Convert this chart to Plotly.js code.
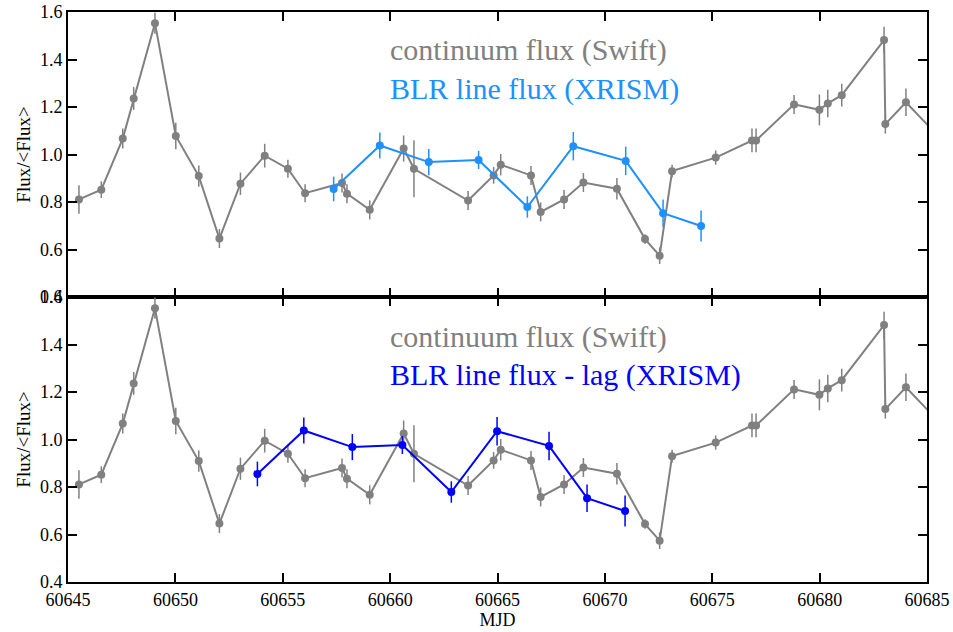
<!DOCTYPE html>
<html>
<head>
<meta charset="utf-8">
<script src="https://cdn.plot.ly/plotly-3.0.1.min.js"></script>
<style>html,body{margin:0;padding:0;background:#fff;}#chart{width:953px;height:632px;}</style>
</head>
<body>
<div id="chart"></div>
<script>
// Continuum (Swift) light curve
const contTime = [60645.51, 60646.55, 60647.55, 60648.06, 60649.05, 60650.02, 60651.09, 60652.05, 60653.03, 60654.16, 60655.24, 60656.04, 60657.76, 60657.99, 60659.05, 60660.63, 60661.11, 60663.63, 60664.82, 60665.15, 60666.56, 60667.01, 60668.10, 60669.00, 60670.56, 60671.87, 60672.55, 60673.13, 60675.16, 60676.85, 60677.04, 60678.81, 60679.99, 60680.38, 60681.03, 60683.00, 60683.06, 60684.02, 60685.60];
const contFlux = [0.811, 0.852, 1.067, 1.236, 1.553, 1.078, 0.909, 0.646, 0.877, 0.995, 0.940, 0.837, 0.880, 0.835, 0.767, 1.025, 0.940, 0.806, 0.912, 0.957, 0.912, 0.758, 0.811, 0.882, 0.856, 0.644, 0.574, 0.930, 0.987, 1.059, 1.059, 1.211, 1.188, 1.215, 1.250, 1.482, 1.128, 1.220, 1.070];
const contErr  = [0.060, 0.035, 0.042, 0.048, 0.045, 0.056, 0.045, 0.040, 0.047, 0.050, 0.038, 0.038, 0.040, 0.040, 0.040, 0.055, 0.120, 0.040, 0.035, 0.045, 0.040, 0.040, 0.040, 0.040, 0.045, 0.020, 0.035, 0.027, 0.030, 0.050, 0.050, 0.040, 0.065, 0.058, 0.048, 0.056, 0.040, 0.058, 0.050];

// BLR line flux (XRISM)
const lineTime    = [60657.37, 60659.52, 60661.80, 60664.12, 60666.39, 60668.53, 60670.97, 60672.71, 60674.48];
const lineTimeLag = [60653.82, 60655.98, 60658.24, 60660.57, 60662.85, 60664.98, 60667.40, 60669.17, 60670.94];
const lineFlux    = [0.855, 1.038, 0.968, 0.977, 0.779, 1.035, 0.973, 0.753, 0.699];
const lineErr     = [0.052, 0.055, 0.055, 0.038, 0.045, 0.060, 0.060, 0.058, 0.065];

const xTicks = [60645, 60650, 60655, 60660, 60665, 60670, 60675, 60680, 60685];
const yTicks = [0.4, 0.6, 0.8, 1.0, 1.2, 1.4, 1.6];

const labels = {
  cont: 'continuum flux (Swift)',
  line: 'BLR line flux (XRISM)',
  lineLag: 'BLR line flux - lag (XRISM)',
  yTitle: 'Flux/<Flux>',
  xTitle: 'MJD'
};

const GRAY = '#808080', DODGER = '#1E90FF', BLUE = '#0000FF';
const FONT = '"Liberation Serif", "Times New Roman", serif';

function series(x, y, e, color, xa, ya) {
  return {
    type: 'scatter', mode: 'lines+markers', x: x, y: y,
    xaxis: xa, yaxis: ya,
    line: {color: color, width: 2},
    marker: {color: color, size: 8},
    error_y: {type: 'data', array: e, visible: true, width: 0, thickness: 1.5, color: color},
    showlegend: false, hoverinfo: 'skip'
  };
}

const traces = [
  series(contTime, contFlux, contErr, GRAY, 'x', 'y'),
  series(lineTime, lineFlux, lineErr, DODGER, 'x', 'y'),
  series(contTime, contFlux, contErr, GRAY, 'x2', 'y2'),
  series(lineTimeLag, lineFlux, lineErr, BLUE, 'x2', 'y2')
];

const xBase = {
  range: [60645, 60685], tickvals: xTicks, ticktext: xTicks.map(String),
  ticks: 'inside', ticklen: 9, tickwidth: 2, tickcolor: '#000',
  showline: true, linewidth: 2, linecolor: '#000', mirror: 'ticks',
  showgrid: false, zeroline: false,
  tickfont: {family: FONT, size: 18, color: '#000'}
};
const yBase = {
  range: [0.4, 1.6], tickvals: yTicks, ticktext: yTicks.map(v => v.toFixed(1)),
  ticks: 'inside', ticklen: 9, tickwidth: 2, tickcolor: '#000',
  showline: true, linewidth: 2, linecolor: '#000', mirror: 'ticks',
  showgrid: false, zeroline: false,
  tickfont: {family: FONT, size: 18, color: '#000'},
  title: {text: labels.yTitle, font: {family: FONT, size: 19, color: '#000'}, standoff: 4}
};

function ann(text, color, y) {
  return {text: text, xref: 'paper', yref: 'paper', x: 0.373, y: y,
          xanchor: 'left', yanchor: 'middle', showarrow: false,
          font: {family: FONT, size: 30, color: color}};
}

const layout = {
  width: 953, height: 632,
  margin: {l: 68, r: 26, t: 12, b: 50},
  paper_bgcolor: '#fff', plot_bgcolor: '#fff',
  xaxis: Object.assign({}, xBase, {anchor: 'y', domain: [0, 1], showticklabels: false, matches: 'x2'}),
  yaxis: Object.assign({}, yBase, {anchor: 'x', domain: [0.5, 1]}),
  xaxis2: Object.assign({}, xBase, {anchor: 'y2', domain: [0, 1],
    title: {text: labels.xTitle, font: {family: FONT, size: 18, color: '#000'}, standoff: 2}}),
  yaxis2: Object.assign({}, yBase, {anchor: 'x2', domain: [0, 0.5]}),
  annotations: [
    ann(labels.cont, GRAY, 0.933),
    ann(labels.line, DODGER, 0.865),
    ann(labels.cont, GRAY, 0.430),
    ann(labels.lineLag, BLUE, 0.363)
  ]
};

Plotly.newPlot('chart', traces, layout, {staticPlot: true, displayModeBar: false});
</script>
</body>
</html>
